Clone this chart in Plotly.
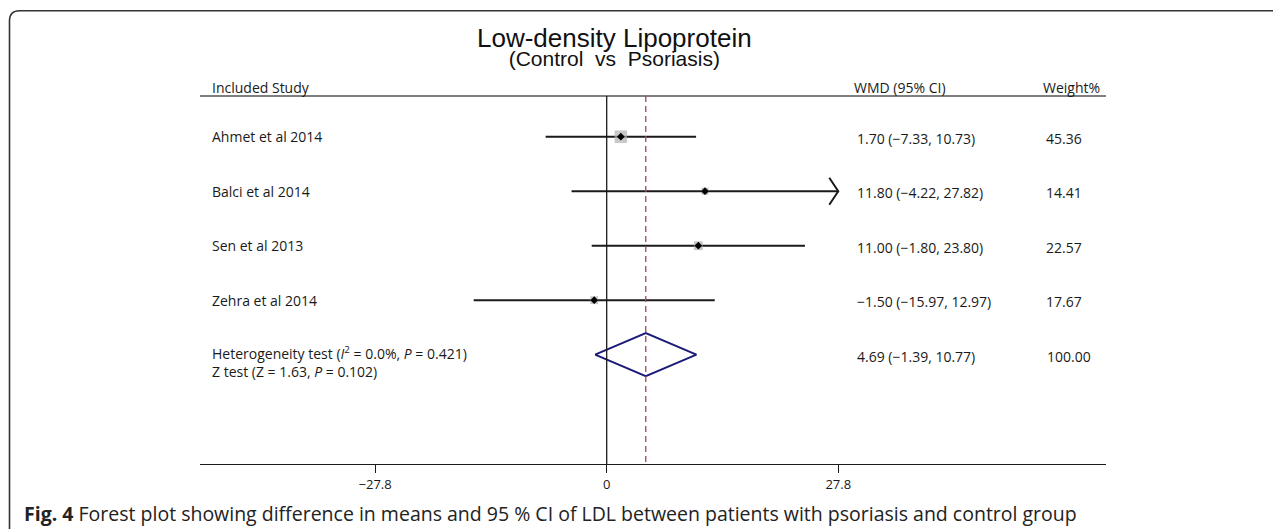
import plotly.graph_objects as go

# ---- data ----
studies = ["Ahmet et al 2014", "Balci et al 2014", "Sen et al 2013", "Zehra et al 2014"]
wmd = [1.70, 11.80, 11.00, -1.50]
ci_low = [-7.33, -4.22, -1.80, -15.97]
ci_high = [10.73, 27.82, 23.80, 12.97]
weights = [45.36, 14.41, 22.57, 17.67]
pooled = 4.69
pooled_low = -1.39
pooled_high = 10.77
pooled_weight = 100.00
tick_vals = [-27.8, 0, 27.8]
tick_text = ["\u221227.8", "0", "27.8"]
axis_limit = 27.8

OFF = 8  # page body margin offset
W, H = 1281 - OFF, 529 - OFF
PX_PER_UNIT = 8.33
ZERO_PX = 606.7 - OFF
AX_LEFT_PX, AX_RIGHT_PX = 200 - OFF, 1106 - OFF
AXIS_Y_PX = 464 - OFF
ROW0_PX, ROW_STEP = 136.7 - OFF, 54.5


def px_to_x(px):
    return (px - OFF - ZERO_PX) / PX_PER_UNIT


def py_to_row(py):
    return (py - OFF - ROW0_PX) / ROW_STEP


def py_to_paper(py):
    return 1 - (py - OFF) / H


def px_to_paper(px):
    return (px - OFF) / W


def fmt(v):
    s = f"{v:.2f}"
    return s.replace("-", "\u2212")


fig = go.Figure()
font_lbl = "Open Sans"
black = "#1a1a1a"
LBL = 14

# CI lines
for i in range(len(studies)):
    hi = min(ci_high[i], axis_limit)
    fig.add_trace(go.Scatter(x=[ci_low[i], hi], y=[i, i], mode="lines",
                             line=dict(color=black, width=2), hoverinfo="skip",
                             showlegend=False))
    if ci_high[i] > axis_limit:
        dx = 9 / PX_PER_UNIT
        dy = 13.5 / ROW_STEP
        fig.add_trace(go.Scatter(x=[hi - dx, hi, hi - dx], y=[i - dy, i, i + dy],
                                 mode="lines", line=dict(color=black, width=2),
                                 hoverinfo="skip", showlegend=False))

# weight squares
max_w = max(weights)
sizes = [12.5 * (w / max_w) ** 0.5 for w in weights]
fig.add_trace(go.Scatter(x=wmd, y=list(range(len(studies))), mode="markers",
                         marker=dict(symbol="square", size=sizes, color="#b0b0b0",
                                     line=dict(width=0)),
                         hoverinfo="skip", showlegend=False))
fig.add_trace(go.Scatter(x=wmd, y=list(range(len(studies))), mode="markers",
                         marker=dict(symbol="diamond", size=6, color="#000000"),
                         hoverinfo="skip", showlegend=False))

# pooled diamond
r = len(studies)
dh = 21.5 / ROW_STEP
fig.add_trace(go.Scatter(x=[pooled_low, pooled, pooled_high, pooled, pooled_low],
                         y=[r, r - dh, r, r + dh, r], mode="lines",
                         line=dict(color="#1c1c78", width=2),
                         hoverinfo="skip", showlegend=False))

shapes = []
top_row = py_to_row(96)
bottom_row = py_to_row(464)
# header line
shapes.append(dict(type="line", xref="x", yref="y", x0=px_to_x(200), x1=px_to_x(1106),
                   y0=top_row, y1=top_row, line=dict(color="#555555", width=1.3)))
# zero line
shapes.append(dict(type="line", xref="x", yref="y", x0=0, x1=0, y0=top_row, y1=bottom_row,
                   line=dict(color=black, width=1.3)))
# pooled dashed line
shapes.append(dict(type="line", xref="x", yref="y", x0=pooled, x1=pooled, y0=top_row, y1=bottom_row,
                   line=dict(color="#a8454c", width=1.3, dash="6px,4px")))

# frame (rounded corner, open right/bottom)
fx, fy, rad = px_to_paper(9.5), py_to_paper(10.7), 10
rx, ry = rad / W, rad / H
path = (f"M {fx},0 L {fx},{fy - ry} "
        f"Q {fx},{fy} {fx + rx},{fy} L 1,{fy}")
shapes.append(dict(type="path", xref="paper", yref="paper", path=path,
                   line=dict(color="#333333", width=1.6)))

annotations = []


def add_text(text, x, y, size=LBL, xanchor="left", xref="x", yref="y", family=font_lbl,
             color=black):
    annotations.append(dict(text=text, x=x, y=y, xref=xref, yref=yref, showarrow=False,
                            xanchor=xanchor, yanchor="middle",
                            font=dict(family=family, size=size, color=color)))


# headers
hdr_row = py_to_row(87)
add_text("Included Study", px_to_x(210), hdr_row)
add_text("WMD (95% CI)", px_to_x(852), hdr_row)
add_text("Weight%", px_to_x(1041), hdr_row)

for i, s in enumerate(studies):
    add_text(s, px_to_x(210), i)
    add_text(f"{fmt(wmd[i])} ({fmt(ci_low[i])}, {fmt(ci_high[i])})", px_to_x(855), i + 0.03)
    add_text(f"{weights[i]:.2f}", px_to_x(1044), i + 0.03)

add_text(f"{fmt(pooled)} ({fmt(pooled_low)}, {fmt(pooled_high)})", px_to_x(855), r + 0.03)
add_text(f"{pooled_weight:.2f}", px_to_x(1045), r + 0.03)
add_text("Heterogeneity test (<i>I</i><sup>2</sup> = 0.0%, <i>P</i> = 0.421)", px_to_x(210), r - 0.03)
add_text("Z test (Z = 1.63, <i>P</i> = 0.102)", px_to_x(210), r + 0.31)

# titles (one block, two lines)
annotations.append(dict(
    text="<span style='font-size:26px'>Low-density Lipoprotein</span><br>"
         "<span style='font-size:21px'>(Control  vs  Psoriasis)</span>",
    x=px_to_paper(614), y=py_to_paper(46), xref="paper", yref="paper", showarrow=False,
    xanchor="center", yanchor="middle", align="center",
    font=dict(family="Liberation Sans", size=14.5, color="#111111")))

# caption
annotations.append(dict(text="<b>Fig. 4</b> Forest plot showing difference in means and 95 % CI of LDL between patients with psoriasis and control group",
                        x=px_to_paper(22), y=py_to_paper(513), xref="paper", yref="paper",
                        showarrow=False, xanchor="left", yanchor="middle",
                        font=dict(family="Open Sans", size=19.5, color="#222222")))

fig.update_layout(
    width=W, height=H,
    margin=dict(l=0, r=0, t=0, b=0),
    paper_bgcolor="white", plot_bgcolor="white",
    showlegend=False,
    shapes=shapes, annotations=annotations,
    xaxis=dict(domain=[AX_LEFT_PX / W, AX_RIGHT_PX / W],
               range=[px_to_x(200), px_to_x(1106)],
               showgrid=False, zeroline=False, showline=True, linecolor=black, linewidth=1.3,
               ticks="outside", ticklen=8, tickwidth=1.2, tickcolor=black,
               tickvals=tick_vals, ticktext=tick_text,
               tickfont=dict(family=font_lbl, size=13, color=black), fixedrange=True),
    yaxis=dict(domain=[(H - AXIS_Y_PX) / H, 1],
               range=[py_to_row(464), py_to_row(OFF)],
               visible=False, fixedrange=True),
)

fig.write_html("out.html")
